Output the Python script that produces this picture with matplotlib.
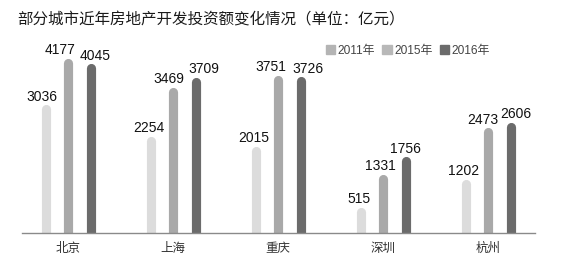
import numpy as np
import matplotlib
matplotlib.use("Agg")
import matplotlib.pyplot as plt

plt.rcParams['font.family'] = ['Liberation Sans', 'Noto Sans CJK SC', 'DejaVu Sans']

cities = ["北京", "上海", "重庆", "深圳", "杭州"]
years = ["2011年", "2015年", "2016年"]
v2011 = [3036, 2254, 2015, 515, 1202]
v2015 = [4177, 3469, 3751, 1331, 2473]
v2016 = [4045, 3709, 3726, 1756, 2606]
title = "部分城市近年房地产开发投资额变化情况（单位：亿元）"

colors = ["#dcdcdc", "#a9a9a9", "#6b6b6b"]
legend_colors = ["#b4b4b4", "#b8b8b8", "#6b6b6b"]

# horizontal nudges of the value labels (pixels), to keep them apart
label_shift = [
    [-4, -2, -2, -2, -2],
    [-8, -4, -7, -3, -5],
    [4, 8, 7, -1, 5],
]


def main():
    fig = plt.figure(figsize=(5.69, 2.59), dpi=100)
    ax = fig.add_axes([22 / 569, (259 - 232.7) / 259, 513 / 569, 192.7 / 259])

    x = np.arange(len(cities))
    offsets = [-0.21, 0.0, 0.22]
    series = [v2011, v2015, v2016]
    for vals, off, col, shifts in zip(series, offsets, colors, label_shift):
        xs = x + off
        ax.vlines(xs, 0, vals, colors=col, linewidth=6.6, capstyle="round", zorder=2)
        for xi, v, sh in zip(xs, vals, shifts):
            ax.annotate(str(v), (xi, v), xytext=(sh * 0.72, 4.0), textcoords="offset points",
                        ha="center", va="bottom", fontsize=10, color="#111111")

    ax.set_xlim(-0.438, 4.448)
    ax.set_ylim(0, 4735)

    for s in ["top", "right", "left"]:
        ax.spines[s].set_visible(False)
    ax.spines["bottom"].set_color("#8a8a8a")
    ax.spines["bottom"].set_linewidth(1.0)
    ax.spines["bottom"].set_zorder(3)
    ax.set_yticks([])
    ax.set_xticks(x)
    ax.set_xticklabels(cities, fontsize=9, color="#333333")
    ax.tick_params(axis="x", length=0, pad=7.5)

    handles = [plt.Rectangle((0, 0), 1, 1, color=c) for c in legend_colors]
    fig.legend(handles, years, loc="upper right", bbox_to_anchor=(490 / 569, 1 - 45 / 259),
               ncol=3, frameon=False, fontsize=8.6, handlelength=0.8, handleheight=0.8,
               handletextpad=0.2, columnspacing=0.6, labelcolor="#444444",
               borderaxespad=0, borderpad=0)

    fig.text(17 / 569, 1 - 20 / 259, title, fontsize=11.2, color="#1a1a1a",
             va="center", ha="left", family=["Noto Sans CJK SC"], fontweight="medium")

    fig.savefig("out.png", dpi=100)


if __name__ == "__main__":
    main()
